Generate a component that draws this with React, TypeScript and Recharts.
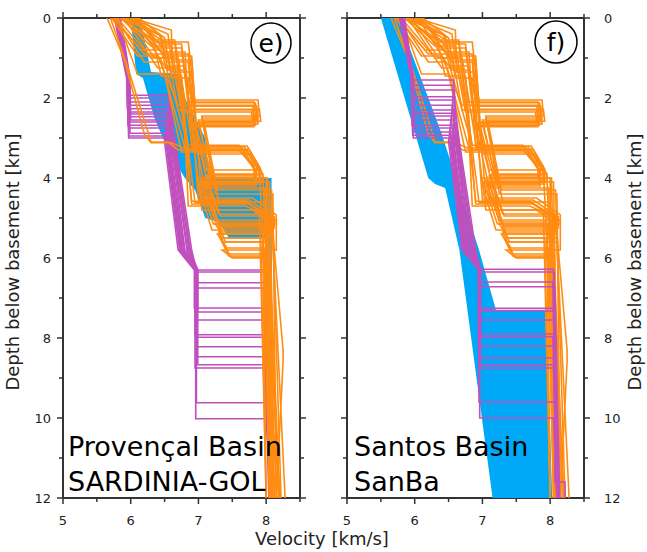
import React from 'react';
import { ScatterChart, Scatter, XAxis, YAxis } from 'recharts';

// each profile is a list of [velocity km/s, depth below basement km]
type Pt = [number, number];

const velocityTicks = [5, 5.5, 6, 6.5, 7, 7.5, 8, 8.5];
const depthTicks = [0, 1, 2, 3, 4, 5, 6, 7, 8, 9, 10, 11, 12];

// reference profiles (same set drawn in both panels)
const orangeShallow: Pt[][] = [
  [[5.85, 0], [6.35, 0.55], [6.65, 0.55], [6.8, 2.1], [7.82, 2.1], [7.85, 2.6], [6.95, 2.6], [7.15, 3.9], [7.95, 3.9], [8.0, 6], [8.12, 12]],
  [[5.9, 0], [6.4, 0.75], [6.75, 0.75], [6.85, 2.2], [7.86, 2.2], [7.88, 2.55], [7.0, 2.55], [7.2, 4.1], [8.05, 4.1], [8.08, 7], [8.2, 12]],
  [[5.75, 0], [6.2, 0.9], [6.55, 0.9], [6.7, 2.3], [7.8, 2.3], [7.84, 2.68], [6.9, 2.68], [7.1, 4.25], [7.98, 4.25], [8.02, 8], [8.1, 12]],
  [[6.0, 0], [6.45, 0.45], [6.55, 1.3], [6.8, 1.3], [6.9, 2.05], [7.88, 2.05], [7.9, 2.45], [7.05, 2.45], [7.25, 4.4], [8.1, 4.4], [8.15, 12]],
  [[5.8, 0], [6.3, 1.0], [6.6, 1.0], [6.75, 2.35], [7.78, 2.35], [7.82, 2.72], [6.95, 2.72], [7.1, 3.8], [7.9, 3.8], [7.98, 6.5], [8.05, 12]],
  [[5.95, 0], [6.5, 0.6], [6.85, 0.6], [6.95, 2.12], [7.84, 2.12], [7.87, 2.5], [7.05, 2.5], [7.3, 4.6], [8.0, 4.6], [8.1, 12]],
  [[5.72, 0], [6.1, 0.95], [6.4, 0.95], [6.7, 2.18], [7.8, 2.18], [7.83, 2.62], [6.92, 2.62], [7.12, 4.0], [8.0, 4.0], [8.06, 12]],
  [[6.12, 0], [6.5, 0.5], [6.6, 1.5], [6.85, 1.5], [6.95, 2.28], [7.9, 2.28], [7.92, 2.58], [7.08, 2.58], [7.28, 4.3], [8.08, 4.3], [8.22, 12]],
  [[5.85, 0], [6.43, 0.43], [6.5, 0.95], [6.9, 0.95], [6.95, 2.2], [7.85, 2.2], [7.88, 2.65], [7.0, 2.65], [7.2, 4.0], [8.02, 4.0], [8.12, 12]],
];

const orangeMid: Pt[][] = [
  [[5.7, 0], [5.95, 1.2], [6.3, 3.1], [6.55, 3.1], [6.7, 3.3], [7.72, 3.3], [7.9, 3.8], [7.9, 4.05], [7.05, 4.05], [7.25, 5.1], [7.95, 5.1], [8.05, 12]],
  [[5.9, 0], [6.45, 0.85], [6.8, 0.85], [6.9, 3.22], [7.68, 3.22], [7.86, 3.72], [7.86, 3.95], [7.1, 3.95], [7.3, 4.9], [8.05, 4.9], [8.1, 9], [8.2, 12]],
  [[6.05, 0], [6.5, 1.2], [6.8, 1.2], [6.95, 3.28], [7.75, 3.28], [7.92, 3.78], [7.92, 4.15], [7.15, 4.15], [7.3, 5.2], [8.0, 5.2], [8.08, 12]],
  [[5.8, 0], [6.1, 1.4], [6.5, 1.4], [6.75, 3.35], [7.65, 3.35], [7.85, 3.85], [7.85, 4.2], [7.0, 4.2], [7.2, 5.3], [7.95, 5.3], [8.0, 12]],
  [[6.0, 0], [6.55, 0.4], [6.6, 1.05], [6.9, 1.05], [7.0, 3.4], [7.78, 3.4], [7.95, 3.9], [7.95, 4.1], [7.1, 4.1], [7.35, 5.4], [8.1, 5.4], [8.25, 8.3], [8.25, 8.6], [8.15, 12]],
  [[5.85, 0], [6.3, 0.7], [6.6, 0.7], [6.85, 3.18], [7.6, 3.18], [7.82, 3.7], [7.82, 4.0], [6.98, 4.0], [7.2, 4.8], [7.9, 4.8], [8.0, 12]],
  [[5.95, 0], [6.35, 1.0], [6.7, 1.0], [6.92, 3.3], [7.7, 3.3], [7.9, 3.85], [7.9, 4.1], [7.05, 4.1], [7.25, 5.05], [8.02, 5.05], [8.1, 12]],
  [[5.78, 0], [6.2, 1.1], [6.45, 1.1], [6.8, 3.25], [7.65, 3.25], [7.84, 3.8], [7.84, 4.12], [7.02, 4.12], [7.22, 5.15], [7.98, 5.15], [8.12, 12]],
  [[6.08, 0], [6.55, 0.9], [6.85, 0.9], [6.98, 3.2], [7.72, 3.2], [7.9, 3.72], [7.9, 3.92], [7.12, 3.92], [7.32, 4.95], [8.08, 4.95], [8.28, 12]],
  [[5.65, 0], [5.9, 1.0], [6.2, 2.9], [6.3, 3.12], [6.6, 3.12], [6.85, 3.3], [7.6, 3.3], [7.85, 3.8], [7.85, 4.15], [7.1, 4.15], [7.3, 5.2], [8.0, 5.2], [8.08, 12]],
];

const orangeDeep: Pt[][] = [
  [[6.1, 0], [6.55, 1.1], [6.85, 1.1], [7.0, 4.55], [7.75, 4.55], [8.12, 4.97], [8.12, 5.25], [7.3, 5.25], [7.4, 5.6], [7.95, 5.6], [8.08, 12]],
  [[5.9, 0], [6.4, 1.25], [6.7, 1.25], [6.95, 4.62], [7.72, 4.62], [8.1, 5.0], [8.1, 5.5], [7.32, 5.5], [7.45, 5.95], [8.0, 5.95], [8.12, 12]],
  [[5.75, 0], [6.15, 0.8], [6.45, 0.8], [6.8, 2.9], [6.85, 4.7], [7.7, 4.7], [8.15, 5.05], [8.15, 5.8], [7.35, 5.8], [7.5, 6.0], [8.05, 6.0], [8.18, 12]],
  [[6.0, 0], [6.45, 0.65], [6.75, 0.65], [7.05, 4.8], [7.8, 4.8], [8.05, 5.1], [8.05, 5.4], [7.28, 5.4], [7.42, 5.75], [7.98, 5.75], [8.1, 12]],
  [[5.88, 0], [6.35, 0.6], [6.65, 0.6], [6.9, 4.58], [7.7, 4.58], [8.08, 4.98], [8.08, 5.35], [7.3, 5.35], [7.45, 5.9], [8.02, 5.9], [8.15, 12]],
  [[6.02, 0], [6.6, 0.3], [6.62, 1.35], [6.9, 1.35], [7.05, 4.5], [7.8, 4.5], [8.15, 4.92], [8.15, 5.15], [7.25, 5.15], [7.38, 5.5], [7.92, 5.5], [8.0, 12]],
  [[5.92, 0], [6.3, 0.35], [6.45, 1.45], [6.75, 1.45], [6.9, 4.65], [7.75, 4.65], [8.1, 5.05], [8.1, 5.6], [7.35, 5.6], [7.48, 5.98], [8.02, 5.98], [8.2, 12]],
];

// Provençal Basin (SARDINIA-GOL)
const purpleProvencal: Pt[][] = [
  [[5.8, 0], [5.96, 1.5], [5.97, 1.93], [6.57, 1.93], [6.52, 3.1], [6.72, 5.8], [6.96, 6.3], [8.0, 6.3], [8.08, 12]],
  [[5.78, 0], [5.95, 1.5], [5.96, 2.0], [6.58, 2.0], [6.64, 3.1], [6.88, 5.8], [6.98, 6.3], [6.98, 6.35], [7.97, 6.35], [8.05, 12]],
  [[5.84, 0], [5.98, 1.5], [5.99, 2.18], [6.56, 2.18], [6.56, 3.1], [6.78, 5.8], [6.95, 6.3], [6.95, 6.62], [8.02, 6.62], [8.1, 12]],
  [[5.76, 0], [5.94, 1.5], [5.95, 2.27], [6.58, 2.27], [6.66, 3.1], [6.9, 5.8], [6.97, 6.3], [6.97, 6.75], [7.96, 6.75], [8.04, 12]],
  [[5.82, 0], [5.97, 1.5], [5.98, 2.35], [6.55, 2.35], [6.5, 3.1], [6.7, 5.8], [6.94, 6.3], [6.94, 7.25], [8.0, 7.25], [8.12, 12]],
  [[5.79, 0], [5.95, 1.5], [5.96, 2.47], [6.59, 2.47], [6.62, 3.1], [6.84, 5.8], [6.99, 6.3], [6.99, 7.35], [7.98, 7.35], [8.06, 12]],
  [[5.85, 0], [5.99, 1.5], [6.0, 2.55], [6.57, 2.55], [6.58, 3.1], [6.76, 5.8], [6.96, 6.3], [6.96, 7.55], [8.03, 7.55], [8.09, 12]],
  [[5.77, 0], [5.95, 1.5], [5.96, 2.68], [6.56, 2.68], [6.54, 3.1], [6.74, 5.8], [6.95, 6.3], [6.95, 7.92], [7.97, 7.92], [8.05, 11.6], [8.2, 11.6], [8.2, 12]],
  [[5.81, 0], [5.96, 1.5], [5.97, 2.75], [6.58, 2.75], [6.65, 3.1], [6.86, 5.8], [6.97, 6.3], [6.97, 7.98], [8.01, 7.98], [8.07, 12]],
  [[5.83, 0], [5.98, 1.5], [5.99, 2.88], [6.57, 2.88], [6.6, 3.1], [6.8, 5.8], [6.98, 6.3], [6.98, 8.22], [7.99, 8.22], [8.1, 12]],
  [[5.78, 0], [5.96, 1.5], [5.97, 3.0], [6.56, 3.0], [6.53, 3.1], [6.73, 5.8], [6.96, 6.3], [6.96, 8.47], [8.02, 8.47], [8.08, 12]],
  [[5.8, 0], [5.97, 1.5], [5.98, 2.1], [6.59, 2.1], [6.63, 3.1], [6.87, 5.8], [6.99, 6.3], [6.99, 8.67], [7.98, 8.67], [8.06, 12]],
  [[5.84, 0], [5.97, 1.5], [5.98, 2.4], [6.57, 2.4], [6.57, 3.1], [6.79, 5.8], [6.95, 6.3], [6.95, 8.75], [8.0, 8.75], [8.11, 12]],
  [[5.79, 0], [5.95, 1.5], [5.96, 2.6], [6.58, 2.6], [6.61, 3.1], [6.83, 5.8], [6.97, 6.3], [6.97, 9.62], [7.99, 9.62], [8.07, 12]],
  [[5.82, 0], [5.96, 1.5], [5.97, 2.95], [6.56, 2.95], [6.55, 3.1], [6.75, 5.8], [6.96, 6.3], [6.96, 10.02], [8.01, 10.02], [8.09, 12]],
];

// Santos Basin (SanBa)
const purpleSantos: Pt[][] = [
  [[5.8, 0], [5.96, 1.5], [5.97, 1.55], [6.58, 1.55], [6.52, 3.1], [6.72, 5.8], [6.95, 6.28], [8.05, 6.28], [8.1, 12]],
  [[5.82, 0], [5.97, 1.5], [5.98, 1.68], [6.57, 1.68], [6.64, 3.1], [6.88, 5.8], [6.96, 6.3], [6.96, 6.35], [8.06, 6.35], [8.12, 12]],
  [[5.78, 0], [5.95, 1.5], [5.96, 1.97], [6.59, 1.97], [6.56, 3.1], [6.78, 5.8], [6.94, 6.3], [6.94, 6.6], [8.04, 6.6], [8.1, 12]],
  [[5.84, 0], [5.98, 1.5], [5.99, 2.05], [6.58, 2.05], [6.66, 3.1], [6.9, 5.8], [6.97, 6.3], [6.97, 6.72], [8.07, 6.72], [8.14, 12]],
  [[5.8, 0], [5.96, 1.5], [5.97, 2.18], [6.56, 2.18], [6.5, 3.1], [6.7, 5.8], [6.95, 6.3], [6.95, 7.26], [8.05, 7.26], [8.12, 12]],
  [[5.79, 0], [5.95, 1.5], [5.96, 2.3], [6.58, 2.3], [6.62, 3.1], [6.84, 5.8], [6.96, 6.3], [6.96, 7.33], [8.06, 7.33], [8.1, 12]],
  [[5.83, 0], [5.97, 1.5], [5.98, 2.38], [6.57, 2.38], [6.58, 3.1], [6.76, 5.8], [6.95, 6.3], [6.95, 7.55], [8.05, 7.55], [8.13, 12]],
  [[5.81, 0], [5.96, 1.5], [5.97, 2.55], [6.58, 2.55], [6.54, 3.1], [6.74, 5.8], [6.96, 6.3], [6.96, 7.9], [8.07, 7.9], [8.07, 11.6], [8.22, 11.6], [8.22, 12]],
  [[5.78, 0], [5.95, 1.5], [5.96, 2.68], [6.59, 2.68], [6.65, 3.1], [6.86, 5.8], [6.97, 6.3], [6.97, 7.97], [8.04, 7.97], [8.11, 12]],
  [[5.85, 0], [5.98, 1.5], [5.99, 2.75], [6.56, 2.75], [6.6, 3.1], [6.8, 5.8], [6.94, 6.3], [6.94, 8.2], [8.06, 8.2], [8.12, 12]],
  [[5.8, 0], [5.96, 1.5], [5.97, 2.93], [6.58, 2.93], [6.53, 3.1], [6.73, 5.8], [6.95, 6.3], [6.95, 8.5], [8.05, 8.5], [8.1, 12]],
  [[5.82, 0], [5.97, 1.5], [5.98, 3.0], [6.57, 3.0], [6.63, 3.1], [6.87, 5.8], [6.96, 6.3], [6.96, 8.67], [8.07, 8.67], [8.14, 12]],
  [[5.79, 0], [5.95, 1.5], [5.96, 1.8], [6.59, 1.8], [6.57, 3.1], [6.79, 5.8], [6.97, 6.3], [6.97, 8.75], [8.05, 8.75], [8.11, 12]],
  [[5.83, 0], [5.97, 1.5], [5.98, 2.45], [6.58, 2.45], [6.61, 3.1], [6.83, 5.8], [6.95, 6.3], [6.95, 9.6], [8.06, 9.6], [8.12, 12]],
  [[5.81, 0], [5.96, 1.5], [5.97, 2.85], [6.57, 2.85], [6.55, 3.1], [6.75, 5.8], [6.96, 6.3], [6.96, 10.0], [8.05, 10.0], [8.1, 12]],
];

// outlines of the blue ranges (clockwise)
const blueProvencal: Pt[] = [
  [6.0, 0], [6.14, 0], [6.3, 1.35], [6.72, 1.4], [6.8, 2.0], [7.1, 3.0], [7.16, 4.0], [8.08, 4.0], [8.08, 4.9],
  [8.1, 9.0], [8.05, 9.0], [7.98, 5.5], [7.45, 5.5], [7.3, 5.1], [7.1, 5.0], [6.95, 4.3], [6.8, 4.0],
  [6.55, 3.3], [6.35, 2.5], [6.18, 1.5], [6.08, 1.4], [6.0, 0],
];

const blueSantos: Pt[] = [
  [5.5, 0], [5.76, 0], [6.4, 2.9], [6.95, 5.8], [7.2, 7.3], [7.95, 7.3], [8.03, 12], [7.15, 12],
  [6.66, 5.8], [6.45, 4.25], [6.3, 4.15], [6.2, 4.0], [5.5, 0],
];

const ORANGE = '#ff8c12';
const PURPLE = '#c050bd';
const BLUE = '#00a9f7';
const AXIS = '#333333';
const FONT = 'DejaVu Sans';

const toRows = (pts: Pt[]) => pts.map(([v, d]) => ({ v, d }));
const noDot = () => <g />;

const bandLine = (color: string) => (props: any) => {
  const pts = (props.points || [])
    .map((p: any) => `${p.x ?? p.cx},${p.y ?? p.cy}`)
    .join(' ');
  return <polygon points={pts} fill={color} stroke="none" />;
};

const isMajor = (v: number) => Number.isInteger(v);

const BottomTick = (props: any) => {
  const { x, y, payload } = props;
  const major = isMajor(payload.value);
  return (
    <g>
      <line x1={x} y1={y} x2={x} y2={y + (major ? 6 : 4)} stroke={AXIS} strokeWidth={1.5} />
      {major && (
        <text x={x} y={y + 27} textAnchor="middle" fontSize={13} fill="#222" fontFamily={FONT}>
          {payload.value}
        </text>
      )}
    </g>
  );
};

const TopTick = (props: any) => {
  const { x, y, payload } = props;
  return <line x1={x} y1={y} x2={x} y2={y - (isMajor(payload.value) ? 6 : 4)} stroke={AXIS} strokeWidth={1.5} />;
};

const depthTick = (side: 'left' | 'right', labels: boolean) => (props: any) => {
  const { x, y, payload } = props;
  const major = payload.value % 2 === 0;
  const s = side === 'left' ? -1 : 1;
  return (
    <g>
      <line x1={x} y1={y} x2={x + s * (major ? 6 : 4)} y2={y} stroke={AXIS} strokeWidth={1.5} />
      {labels && major && (
        <text
          x={side === 'left' ? x - 12 : x + 20}
          y={y + 4.5}
          textAnchor={side === 'left' ? 'end' : 'start'}
          fontSize={13}
          fill="#222"
          fontFamily={FONT}
        >
          {payload.value}
        </text>
      )}
    </g>
  );
};

interface PanelProps {
  purple: Pt[][];
  blue: Pt[];
  purpleOnTop: boolean;
  labelsRight: boolean;
}

const axisLine = { stroke: AXIS, strokeWidth: 2 };

const Panel: React.FC<PanelProps> = ({ purple, blue, purpleOnTop, labelsRight }) => {
  const orange = [...orangeShallow, ...orangeMid, ...orangeDeep];
  const orangeSeries = orange.map((p, i) => (
    <Scatter
      key={`o${i}`}
      data={toRows(p)}
      xAxisId="b"
      yAxisId="l"
      fill={ORANGE}
      line={{ stroke: ORANGE, strokeWidth: 1.6 }}
      shape={noDot}
      isAnimationActive={false}
    />
  ));
  const purpleSeries = purple.map((p, i) => (
    <Scatter
      key={`p${i}`}
      data={toRows(p)}
      xAxisId="b"
      yAxisId="l"
      fill={PURPLE}
      line={{ stroke: PURPLE, strokeWidth: 1.6 }}
      shape={noDot}
      isAnimationActive={false}
    />
  ));
  const margin = labelsRight
    ? { top: 8, right: 23, bottom: 24, left: 10 }
    : { top: 8, right: 0, bottom: 24, left: 23 };

  return (
    <ScatterChart width={320} height={552} margin={margin}>
      <XAxis
        xAxisId="b"
        dataKey="v"
        type="number"
        domain={[5, 8.5]}
        ticks={velocityTicks}
        interval={0}
        allowDataOverflow
        height={30}
        tickSize={0}
        tickMargin={0}
        tickLine={false}
        axisLine={axisLine}
        tick={<BottomTick />}
      />
      <XAxis
        xAxisId="t"
        orientation="top"
        dataKey="v"
        type="number"
        domain={[5, 8.5]}
        ticks={velocityTicks}
        interval={0}
        allowDataOverflow
        height={10}
        tickSize={0}
        tickMargin={0}
        tickLine={false}
        axisLine={axisLine}
        tick={<TopTick />}
      />
      <YAxis
        yAxisId="l"
        dataKey="d"
        type="number"
        domain={[0, 12]}
        reversed
        ticks={depthTicks}
        interval={0}
        allowDataOverflow
        width={labelsRight ? 10 : 40}
        tickSize={0}
        tickMargin={0}
        tickLine={false}
        axisLine={axisLine}
        tick={depthTick('left', !labelsRight)}
      />
      <YAxis
        yAxisId="r"
        orientation="right"
        dataKey="d"
        type="number"
        domain={[0, 12]}
        reversed
        ticks={depthTicks}
        interval={0}
        allowDataOverflow
        width={labelsRight ? 40 : 20}
        tickSize={0}
        tickMargin={0}
        tickLine={false}
        axisLine={axisLine}
        tick={depthTick('right', labelsRight)}
      />
      <Scatter
        data={toRows(blue)}
        xAxisId="b"
        yAxisId="l"
        fill={BLUE}
        line={bandLine(BLUE)}
        shape={noDot}
        isAnimationActive={false}
      />
      {purpleOnTop ? orangeSeries : purpleSeries}
      {purpleOnTop ? purpleSeries : orangeSeries}
      <Scatter
        data={[{ v: 5, d: 0 }]}
        xAxisId="t"
        yAxisId="r"
        shape={noDot}
        isAnimationActive={false}
      />
    </ScatterChart>
  );
};

const txt = { fontFamily: FONT, fill: '#000' };

export default function App() {
  return (
    <div style={{ position: 'absolute', left: 0, top: 0, width: 647, height: 552, background: '#fff' }}>
      <div style={{ position: 'absolute', left: 0, top: 0 }}>
        <Panel purple={purpleProvencal} blue={blueProvencal} purpleOnTop={false} labelsRight={false} />
      </div>
      <div style={{ position: 'absolute', left: 327, top: 0 }}>
        <Panel purple={purpleSantos} blue={blueSantos} purpleOnTop={true} labelsRight={true} />
      </div>
      <svg width={647} height={552} style={{ position: 'absolute', left: 0, top: 0, pointerEvents: 'none' }}>
        <text x={68} y={456} fontSize={27} {...txt}>Provençal Basin</text>
        <text x={68} y={491} fontSize={27} {...txt}>SARDINIA-GOL</text>
        <text x={354} y={456} fontSize={27} {...txt}>Santos Basin</text>
        <text x={354} y={491} fontSize={27} {...txt}>SanBa</text>
        <circle cx={271} cy={43} r={20} fill="#fff" stroke="#000" strokeWidth={1.5} />
        <text x={271} y={52} fontSize={25} textAnchor="middle" {...txt}>e)</text>
        <circle cx={556} cy={42} r={21} fill="#fff" stroke="#000" strokeWidth={1.5} />
        <text x={556} y={51} fontSize={25} textAnchor="middle" {...txt}>f)</text>
        <text x={322} y={545} fontSize={18} textAnchor="middle" fontFamily={FONT} fill="#222">Velocity [km/s]</text>
        <text x={0} y={0} fontSize={18} textAnchor="middle" fontFamily={FONT} fill="#222" transform="translate(19,262) rotate(-90)">
          Depth below basement [km]
        </text>
        <text x={0} y={0} fontSize={18} textAnchor="middle" fontFamily={FONT} fill="#222" transform="translate(641,262) rotate(-90)">
          Depth below basement [km]
        </text>
      </svg>
    </div>
  );
}
